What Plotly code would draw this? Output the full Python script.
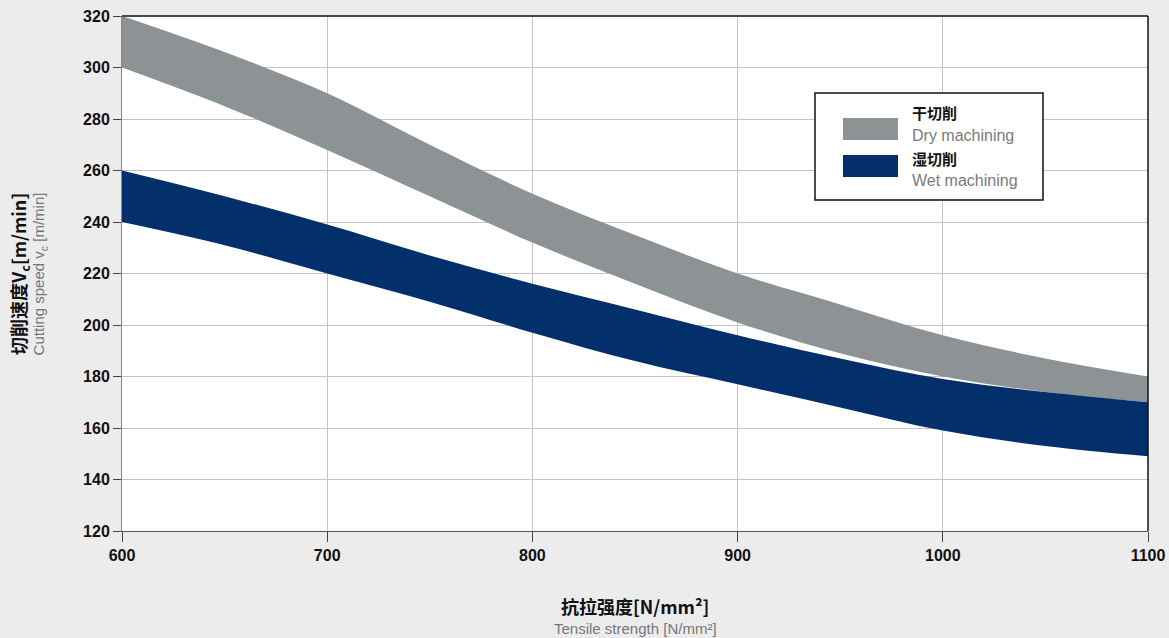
import plotly.graph_objects as go

tensile = [600, 650, 700, 750, 800, 850, 900, 950, 1000, 1050, 1100]
dry_upper = [320, 306, 290, 270, 251, 235, 220, 208, 196, 187, 180]
dry_lower = [300, 285, 268, 250, 232, 216, 201, 189, 180, 174, 170]
wet_upper = [260, 250, 239, 227, 216, 206, 196, 187, 179, 174, 170]
wet_lower = [240, 231, 220, 209, 197, 186, 177, 168, 159, 153, 149]

x_ticks = [600, 700, 800, 900, 1000, 1100]
y_ticks = [120, 140, 160, 180, 200, 220, 240, 260, 280, 300, 320]

DRY = "#8d9295"
WET = "#03306b"
CJK = "Noto Sans CJK SC"
LAT = "Liberation Sans, Arial, sans-serif"

fig = go.Figure()
for lower, upper, col, name in [(dry_lower, dry_upper, DRY, "dry"), (wet_lower, wet_upper, WET, "wet")]:
    fig.add_trace(go.Scatter(x=tensile, y=lower, mode="lines", line=dict(width=0, color=col, shape="spline"),
                             showlegend=False, hoverinfo="skip"))
    fig.add_trace(go.Scatter(x=tensile, y=upper, mode="lines", line=dict(width=0, color=col, shape="spline"),
                             fill="tonexty", fillcolor=col, showlegend=False, name=name))

fig.update_layout(
    width=1169, height=638,
    margin=dict(l=122, r=21, t=16, b=107, autoexpand=False),
    paper_bgcolor="#ececec", plot_bgcolor="#ffffff",
    font=dict(family=LAT, size=15, color="#1a1a1a"),
)
tickfont = dict(family=LAT, size=16, color="#111", weight="bold")
fig.update_xaxes(range=[600, 1100], tickvals=x_ticks, ticks="outside", ticklen=10, tickcolor="#444",
                 showgrid=True, gridcolor="#c4c4c4", gridwidth=1, showline=True, linecolor="#555", linewidth=1,
                 zeroline=False, tickfont=tickfont, automargin=False)
fig.update_yaxes(range=[120, 320], tickvals=y_ticks, ticks="outside", ticklen=8, tickcolor="#444",
                 showgrid=True, gridcolor="#c4c4c4", gridwidth=1, showline=True, linecolor="#888", linewidth=1,
                 zeroline=False, tickfont=tickfont, automargin=False)

# top & right borders
fig.add_shape(type="line", xref="paper", yref="paper", x0=0, x1=1, y0=1, y1=1, line=dict(color="#111", width=1.5))
fig.add_shape(type="line", xref="paper", yref="paper", x0=1, x1=1, y0=0, y1=1, line=dict(color="#111", width=1.5))

# axis titles
fig.add_annotation(xref="paper", yref="paper", x=0.5, y=-0.146, yanchor="middle", showarrow=False,
                   text="<b>抗拉强度[N/mm²]</b>", font=dict(family=CJK, size=18, color="#111"))
fig.add_annotation(xref="paper", yref="paper", x=0.5, y=-0.19, yanchor="middle", showarrow=False,
                   text="Tensile strength [N/mm²]", font=dict(family=LAT, size=15, color="#777"))
fig.add_annotation(xref="paper", yref="paper", x=-0.1, y=0.5, xanchor="center", textangle=-90, showarrow=False,
                   text="<b>切削速度V<sub>c</sub>[m/min]</b>", font=dict(family=CJK, size=18, color="#111"))
fig.add_annotation(xref="paper", yref="paper", x=-0.08, y=0.5, xanchor="center", textangle=-90, showarrow=False,
                   text="Cutting speed v<sub>c</sub> [m/min]", font=dict(family=LAT, size=15, color="#777"))

# legend box (paper coords)
def px(x):
    return (x - 122) / (1148 - 122)

def py(y):
    return (531 - y) / (531 - 16)

fig.add_shape(type="rect", xref="paper", yref="paper", x0=px(815), x1=px(1043), y0=py(200), y1=py(93),
              line=dict(color="#111", width=1.5), fillcolor="#ffffff")
fig.add_shape(type="rect", xref="paper", yref="paper", x0=px(843), x1=px(898), y0=py(140), y1=py(118),
              line=dict(width=0), fillcolor=DRY)
fig.add_shape(type="rect", xref="paper", yref="paper", x0=px(843), x1=px(898), y0=py(177), y1=py(155),
              line=dict(width=0), fillcolor=WET)
for txt, y, fnt in [("<b>干切削</b>", 112, dict(family=CJK, size=15, color="#111")),
                    ("Dry machining", 135, dict(family=LAT, size=16, color="#7a7a7a")),
                    ("<b>湿切削</b>", 158, dict(family=CJK, size=15, color="#111")),
                    ("Wet machining", 181, dict(family=LAT, size=16, color="#7a7a7a"))]:
    fig.add_annotation(xref="paper", yref="paper", x=px(910), y=py(y), xanchor="left", yanchor="middle",
                       showarrow=False, text=txt, font=fnt)

fig.write_html("out.html", config={"displayModeBar": False},
               post_script="document.body.style.margin='0';document.body.style.overflow='hidden';")
